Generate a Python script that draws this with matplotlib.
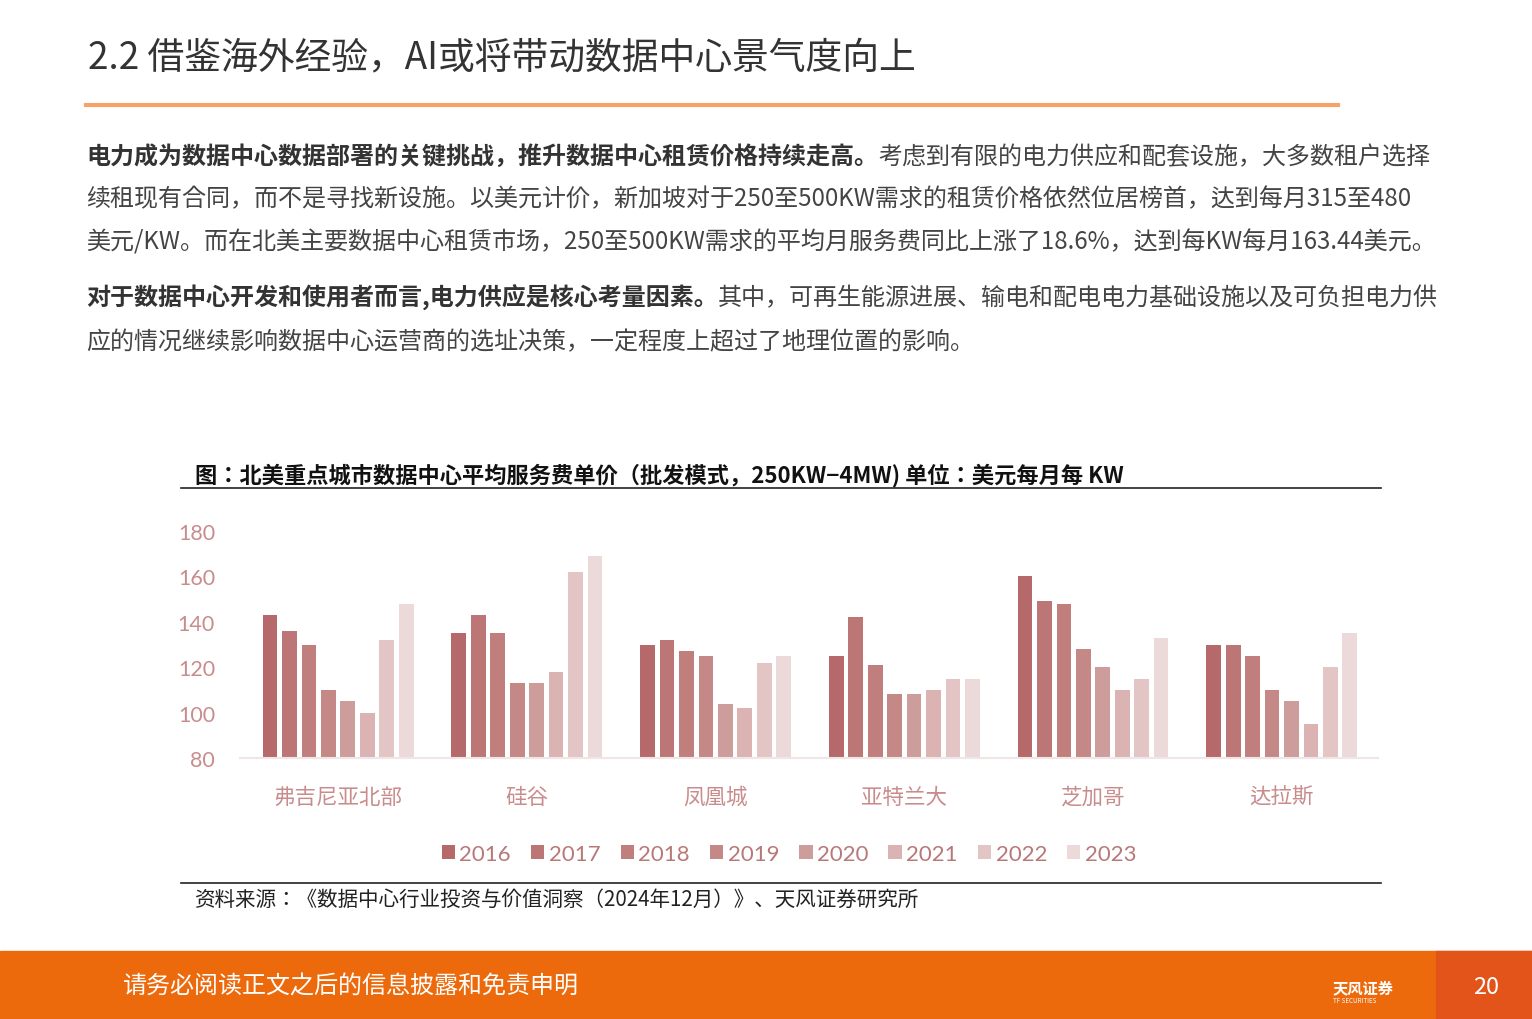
import numpy as np
import matplotlib.pyplot as plt
from matplotlib.patches import Rectangle
from matplotlib.lines import Line2D

plt.rcParams['font.family'] = ['Noto Sans CJK SC', 'Noto Sans CJK JP', 'Noto Sans CJK TC', 'DejaVu Sans']

cities = ['弗吉尼亚北部', '硅谷', '凤凰城', '亚特兰大', '芝加哥', '达拉斯']
years = ['2016', '2017', '2018', '2019', '2020', '2021', '2022', '2023']
# price per year, one list per city
virginia = [143, 136, 130, 110, 105, 100, 132, 148]
silicon_valley = [135, 143, 135, 113, 113, 118, 162, 169]
phoenix = [130, 132, 127, 125, 104, 102, 122, 125]
atlanta = [125, 142, 121, 108, 108, 110, 115, 115]
chicago = [160, 149, 148, 128, 120, 110, 115, 133]
dallas = [130, 130, 125, 110, 105, 95, 120, 135]
yticks = [80, 100, 120, 140, 160, 180]

colors = ['#b5696a', '#bb7675', '#c07f7d', '#c48886', '#cd9d9b', '#dab3b2', '#e4c5c6', '#ecd9da']
data = np.array([virginia, silicon_valley, phoenix, atlanta, chicago, dallas])

W, H = 1532, 1020
fig = plt.figure(figsize=(W / 100, H / 100), dpi=100)

def fx(x):
    return x / W

def fy(y):
    return 1 - y / H

# page header
fig.text(fx(88), fy(58), '2.2 借鉴海外经验，AI或将带动数据中心景气度向上', fontsize=26.5, color='#333333', va='center')
fig.add_artist(Line2D([fx(86), fx(1338)], [fy(106), fy(106)], color='#f4a46a', lw=3))

body = [
    (157, '电力成为数据中心数据部署的关键挑战，推升数据中心租赁价格持续走高。', '考虑到有限的电力供应和配套设施，大多数租户选择'),
    (199, '', '续租现有合同，而不是寻找新设施。以美元计价，新加坡对于250至500KW需求的租赁价格依然位居榜首，达到每月315至480'),
    (242, '', '美元/KW。而在北美主要数据中心租赁市场，250至500KW需求的平均月服务费同比上涨了18.6%，达到每KW每月163.44美元。'),
    (298, '对于数据中心开发和使用者而言,电力供应是核心考量因素。', '其中，可再生能源进展、输电和配电电力基础设施以及可负担电力供'),
    (342, '', '应的情况继续影响数据中心运营商的选址决策，一定程度上超过了地理位置的影响。'),
]
renderer = fig.canvas.get_renderer()
for y, bold, rest in body:
    x = fx(86)
    if bold:
        t = fig.text(x, fy(y), bold, fontsize=17.3, fontweight='bold', color='#333333', va='center')
        bb = t.get_window_extent(renderer)
        x = bb.x1 / W
    fig.text(x, fy(y), rest, fontsize=17.3, color='#444444', va='center')

# chart title and rules
fig.text(fx(195), fy(475), '图：北美重点城市数据中心平均服务费单价（批发模式，250KW−4MW) 单位：美元每月每 KW',
         fontsize=16, fontweight='bold', color='#111111', va='center')
fig.add_artist(Line2D([fx(181), fx(1381)], [fy(489), fy(489)], color='#222222', lw=1.2))
fig.add_artist(Line2D([fx(181), fx(1381)], [fy(884), fy(884)], color='#222222', lw=1.2))
fig.text(fx(195), fy(900), '资料来源：《数据中心行业投资与价值洞察（2024年12月）》、天风证券研究所',
         fontsize=14.8, color='#222222', va='center')

ax = fig.add_axes([fx(240), fy(759), fx(1378 - 240), (759 - 532) / H])
x = np.arange(len(cities))
step, width = 0.103, 0.078
for i, year in enumerate(years):
    ax.bar(x + (i - 3.5) * step, data[:, i] - 80, width, bottom=80, color=colors[i], label=year)
ax.set_ylim(80, 180)
ax.set_xlim(-0.52, 5.51)
ax.set_yticks(yticks)
ax.set_yticklabels([str(v) for v in yticks], fontfamily='Lato')
ax.set_xticks(x)
ax.set_xticklabels(cities)
ax.tick_params(length=0, labelsize=15.5, colors='#c98c8c')
ax.tick_params(axis='x', pad=20)
ax.tick_params(axis='y', pad=18)
for s in ['top', 'right', 'left']:
    ax.spines[s].set_visible(False)
ax.spines['bottom'].set_color('#f0e6e6')
ax.spines['bottom'].set_linewidth(1.5)
ax.patch.set_alpha(0)

fig.legend(loc='center', bbox_to_anchor=(fx(789), fy(855)), ncol=8, frameon=False,
           handlelength=0.6, handleheight=0.6, handletextpad=0.2, columnspacing=0.9,
           prop={'family': 'Lato', 'size': 16}, labelcolor='#b87878')

# footer band
fig.add_artist(Rectangle((0, 0), 1, fy(952), transform=fig.transFigure, color='#ec6a0c', zorder=0))
fig.add_artist(Rectangle((fx(1436), 0), fx(96), fy(952), transform=fig.transFigure, color='#e2541a', zorder=0))
fig.text(fx(123), fy(986), '请务必阅读正文之后的信息披露和免责申明', fontsize=17.3, color='white', va='center')
fig.text(fx(1333), fy(988), '天风证券', fontsize=11, fontweight='bold', color='white', va='center')
fig.text(fx(1333), fy(1001), 'TF SECURITIES', fontsize=4.5, color='white', va='center')
fig.text(fx(1486), fy(988), '20', fontsize=17, color='white', va='center', ha='center')

fig.savefig('out.png', dpi=100)
